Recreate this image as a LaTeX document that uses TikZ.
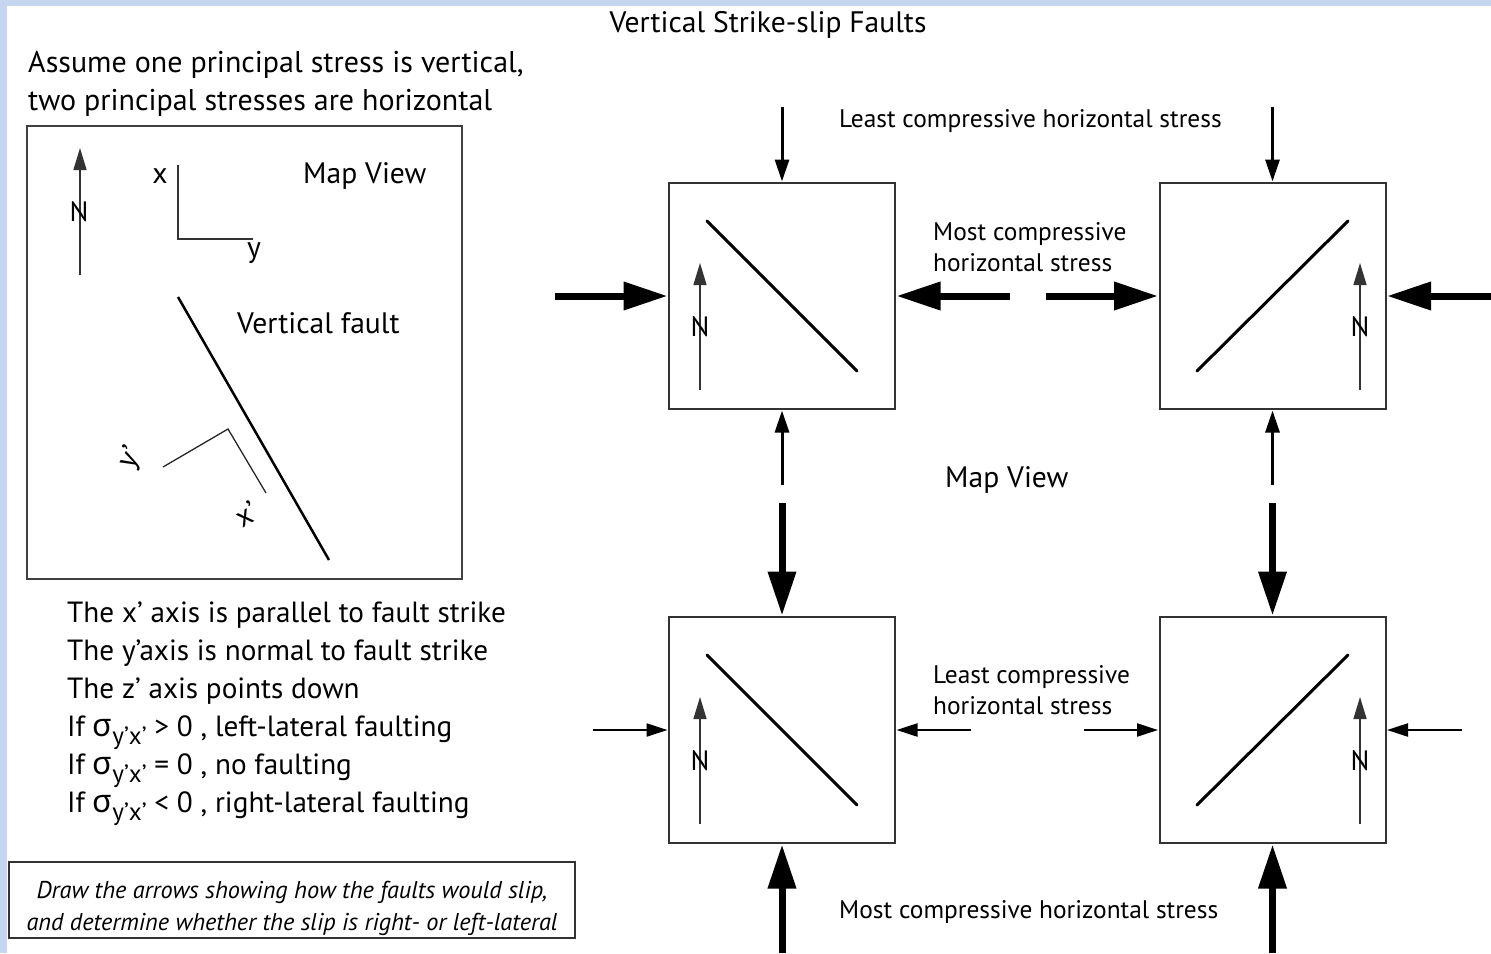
\documentclass[tikz,border=0pt]{standalone}
\usepackage{fontspec}
\setmainfont{PT Sans}
\newfontfamily\grkfont{Noto Sans}
\usetikzlibrary{arrows.meta}
\definecolor{frameblue}{HTML}{C6D6EE}
\newcommand{\sigyx}{{\grkfont\fontsize{32}{32}\selectfont σ}\raisebox{-0.3em}{\fontsize{25}{25}\selectfont y’x’}}
\begin{document}
\begin{tikzpicture}[x=1pt,y=-1pt,
  box/.style={draw=black!80, line width=2pt, minimum width=226pt, minimum height=226pt, inner sep=0pt, outer sep=0pt},
  fault/.style={line width=3pt, line cap=round},
  thinarr/.style={line width=3pt, shorten >=1.5pt, -{Triangle[length=22pt,width=14pt]}},
  thinharr/.style={line width=2.2pt, shorten >=1.5pt, -{Triangle[length=21pt,width=13pt]}},
  thickarr/.style={line width=7pt, shorten >=1.5pt, -{Triangle[length=44pt,width=27pt]}},
  narr/.style={line width=1.4pt, draw=black!80, -{Triangle[length=22pt,width=13pt]}},
  big/.style={inner sep=0pt, font=\fontsize{29.6}{34}\selectfont},
  stm/.style={inner sep=0pt, font=\fontsize{29.2}{34}\selectfont},
  mid/.style={inner sep=0pt, font=\fontsize{25.4}{30}\selectfont},
  ital/.style={inner sep=0pt, font=\fontsize{24.3}{30}\selectfont\itshape},
  nlab/.style={inner sep=0pt, font=\fontsize{28}{30}\selectfont},
]
\fill[frameblue] (0,0) rectangle (1491,953);
\fill[white] (7,6) rectangle (1491,953);
\useasboundingbox (0,0) rectangle (1491,953);

% title and heading
\node[big, anchor=base] (title) at (768,32) {Vertical Strike-slip Faults};
\node[big, anchor=base west, font=\fontsize{30}{34}\selectfont] (as1) at (28,72) {Assume one principal stress is vertical,};
\node[big, anchor=base west, font=\fontsize{30}{34}\selectfont] (as2) at (28,110) {two principal stresses are horizontal};

% left map view box
\node[draw=black!75, line width=1.5pt, minimum width=435pt, minimum height=453pt, inner sep=0pt] (mapbox) at (244.5,352.5) {};
\coordinate (nl0) at (80,275);
\coordinate (nl1) at (80,148);
\draw[narr] (nl0) -- (nl1);
\node[nlab] (nleft) at (79,212) {N};
\coordinate (ax0) at (178,165);
\coordinate (ax1) at (178,239);
\coordinate (ax2) at (253,239);
\draw[line width=1.5pt, draw=black!80] (ax0) -- (ax1) -- (ax2);
\node[big, anchor=base] (xlab) at (160,183) {x};
\node[big, anchor=base] (ylab) at (254,257) {y};
\node[big, anchor=base west] (mv1) at (303,183) {Map View};
\node[big, anchor=base west] (vf) at (237,333) {Vertical fault};
\coordinate (f0) at (178,297);
\coordinate (f1) at (329,560);
\draw[line width=2.5pt] (f0) -- (f1);
\coordinate (p0) at (163,467);
\coordinate (p1) at (228,429);
\coordinate (p2) at (266,493);
\draw[line width=1.3pt, draw=black!85] (p0) -- (p1) -- (p2);
\node[big, rotate=60] (yp) at (131,458) {y'};
\node[big, rotate=30] (xp) at (246,514) {x'};

% statements
\node[stm, anchor=base west] (s1) at (67,622) {The x’ axis is parallel to fault strike};
\node[stm, anchor=base west] (s2) at (67,660) {The y’axis is normal to fault strike};
\node[stm, anchor=base west] (s3) at (67,698) {The z’ axis points down};
\node[stm, anchor=base west] (s4) at (67,736) {If \sigyx\ > 0 , left-lateral faulting};
\node[stm, anchor=base west] (s5) at (67,774) {If \sigyx\ = 0 , no faulting};
\node[stm, anchor=base west] (s6) at (67,812) {If \sigyx\ < 0 , right-lateral faulting};

% task box
\node[draw=black!80, line width=1.5pt, minimum width=566pt, minimum height=76pt, inner sep=0pt] (task) at (292,900) {};
\node[ital, anchor=base] (t1) at (292,898) {Draw the arrows showing how the faults would slip,};
\node[ital, anchor=base] (t2) at (292,930) {and determine whether the slip is right- or left-lateral};

% four boxes
\node[box] (tl) at (782,296) {};
\node[box] (tr) at (1272.5,296) {};
\node[box] (bl) at (782,730) {};
\node[box] (br) at (1272.5,730) {};

% faults
\coordinate (tlf0) at (707,221); \coordinate (tlf1) at (857,371);
\coordinate (trf0) at (1197,371); \coordinate (trf1) at (1348,221);
\coordinate (blf0) at (707,655); \coordinate (blf1) at (857,805);
\coordinate (brf0) at (1197,805); \coordinate (brf1) at (1348,655);
\draw[fault] (tlf0) -- (tlf1);
\draw[fault] (trf0) -- (trf1);
\draw[fault] (blf0) -- (blf1);
\draw[fault] (brf0) -- (brf1);

% north arrows
\coordinate (tln0) at (700,390); \coordinate (tln1) at (700,263);
\coordinate (trn0) at (1360,390); \coordinate (trn1) at (1360,263);
\coordinate (bln0) at (700,824); \coordinate (bln1) at (700,697);
\coordinate (brn0) at (1360,824); \coordinate (brn1) at (1360,697);
\draw[narr] (tln0) -- (tln1);
\draw[narr] (trn0) -- (trn1);
\draw[narr] (bln0) -- (bln1);
\draw[narr] (brn0) -- (brn1);
\node[nlab] (tlN) at (700,327) {N};
\node[nlab] (trN) at (1360,327) {N};
\node[nlab] (blN) at (700,761) {N};
\node[nlab] (brN) at (1360,761) {N};

% top row: thin vertical arrows
\coordinate (tlT) at (782,107); \coordinate (tlB) at (782,485);
\coordinate (trT) at (1272.5,107); \coordinate (trB) at (1272.5,485);
\draw[thinarr] (tlT) -- (tl.north);
\draw[thinarr] (tlB) -- (tl.south);
\draw[thinarr] (trT) -- (tr.north);
\draw[thinarr] (trB) -- (tr.south);
% top row: thick horizontal arrows
\coordinate (tlL) at (555,296); \coordinate (tlR) at (1010,296);
\coordinate (trL) at (1046,296); \coordinate (trR) at (1491,296);
\draw[thickarr] (tlL) -- (tl.west);
\draw[thickarr] (tlR) -- (tl.east);
\draw[thickarr] (trL) -- (tr.west);
\draw[thickarr] (trR) -- (tr.east);

% bottom row: thick vertical arrows
\coordinate (blT) at (782,503); \coordinate (blB) at (782,953);
\coordinate (brT) at (1272.5,503); \coordinate (brB) at (1272.5,953);
\draw[thickarr] (blT) -- (bl.north);
\draw[thickarr] (blB) -- (bl.south);
\draw[thickarr] (brT) -- (br.north);
\draw[thickarr] (brB) -- (br.south);
% bottom row: thin horizontal arrows
\coordinate (blL) at (593,730); \coordinate (blR) at (971,730);
\coordinate (brL) at (1084,730); \coordinate (brR) at (1462,730);
\draw[thinharr] (blL) -- (bl.west);
\draw[thinharr] (blR) -- (bl.east);
\draw[thinharr] (brL) -- (br.west);
\draw[thinharr] (brR) -- (br.east);

% labels
\node[mid, anchor=base west] (lc1) at (839,127) {Least compressive horizontal stress};
\node[mid, anchor=base west] (mc1a) at (933,240) {Most compressive};
\node[mid, anchor=base west] (mc1b) at (933,271) {horizontal stress};
\node[big, anchor=base west] (mv2) at (945,487) {Map View};
\node[mid, anchor=base west] (lc2a) at (933,683) {Least compressive};
\node[mid, anchor=base west] (lc2b) at (933,714) {horizontal stress};
\node[mid, anchor=base west] (mc2) at (839,918) {Most compressive horizontal stress};
\end{tikzpicture}
\end{document}
